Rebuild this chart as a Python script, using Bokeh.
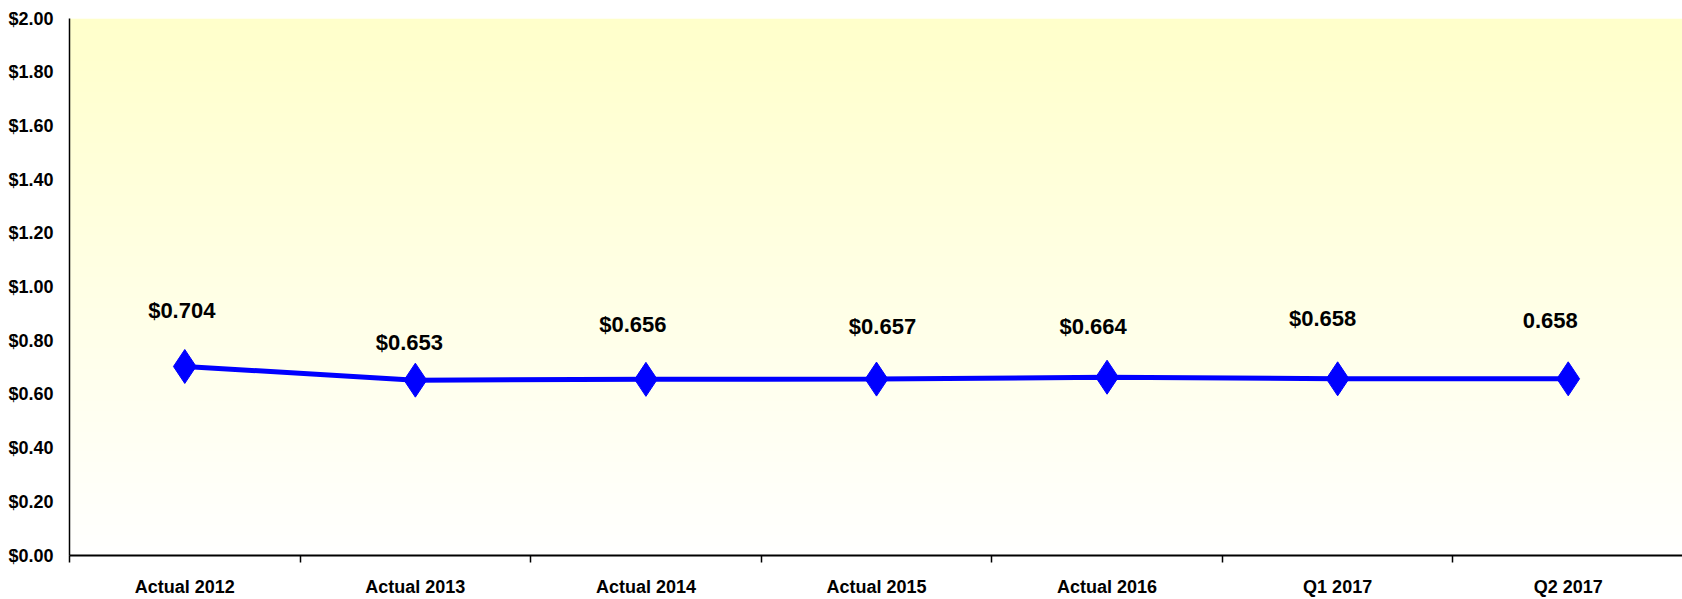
import numpy as np
from bokeh.plotting import figure
from bokeh.models import (ColumnDataSource, FixedTicker, NumeralTickFormatter,
                          Range1d)
from bokeh.core.properties import value
from bokeh.embed import file_html
from bokeh.resources import INLINE

# ---- data ----
categories = ["Actual 2012", "Actual 2013", "Actual 2014", "Actual 2015",
              "Actual 2016", "Q1 2017", "Q2 2017"]
values = [0.704, 0.653, 0.656, 0.657, 0.664, 0.658, 0.658]
value_labels = ["$0.704", "$0.653", "$0.656", "$0.657", "$0.664", "$0.658", "0.658"]
y_ticks = [0.0, 0.2, 0.4, 0.6, 0.8, 1.0, 1.2, 1.4, 1.6, 1.8, 2.0]

# label placement tweaks (styling only, pixels)
label_dx = [-3, -6, -13, 6, -14, -15, -18]
label_dy = [-56, -38, -55, -53, -51, -60, -58]

FONT = "Liberation Sans"

n = len(categories)
xs = [i + 0.5 for i in range(n)]

p = figure(frame_width=1614, frame_height=537, output_backend="svg",
           toolbar_location=None,
           x_range=Range1d(0, 7.0), y_range=Range1d(0, 2.0),
           min_border_left=69, min_border_right=0, min_border_top=18,
           min_border_bottom=30)
p.outline_line_color = None
p.background_fill_color = "white"
p.border_fill_color = "white"

# vertical gradient background (light yellow -> white)
rows = 256
t = np.linspace(0, 1, rows)  # bottom -> top
img = np.zeros((rows, 1), dtype=np.uint32)
view = img.view(dtype=np.uint8).reshape((rows, 1, 4))
view[:, 0, 0] = 255
view[:, 0, 1] = 255
view[:, 0, 2] = (255 - 52 * t).astype(np.uint8)
view[:, 0, 3] = 255
p.image_rgba(image=[img], x=0, y=0, dw=7, dh=2.0)

src = ColumnDataSource(dict(x=xs, y=values, lab=value_labels,
                            dx=label_dx, dy=label_dy))
p.line("x", "y", source=src, line_color="#0000FF", line_width=5)
p.scatter("x", "y", source=src, marker="diamond", size=34,
          fill_color="#0000FF", line_color="#0000FF")

p.text("x", "y", text="lab", source=src, x_offset="dx", y_offset="dy",
       text_align="center", text_baseline="middle",
       text_font=value(FONT), text_font_style="bold",
       text_font_size="22px", text_color="black")

# x axis: labels at centers, tick marks between categories
p.xaxis.ticker = FixedTicker(ticks=xs, minor_ticks=[float(i) for i in range(0, n + 1)])
p.xaxis.major_label_overrides = {x: c for x, c in zip(xs, categories)}
p.xaxis.major_tick_out = 0
p.xaxis.major_tick_in = 0
p.xaxis.minor_tick_out = 7
p.xaxis.minor_tick_in = 0
p.xaxis.minor_tick_line_color = "black"
p.xaxis.minor_tick_line_width = 1.5
p.xaxis.axis_line_color = "black"
p.xaxis.axis_line_width = 2
p.xaxis.major_label_text_font = FONT
p.xaxis.major_label_text_font_style = "bold"
p.xaxis.major_label_text_font_size = "18px"
p.xaxis.major_label_text_color = "black"
p.xaxis.major_label_standoff = 14

# y axis
p.yaxis.ticker = FixedTicker(ticks=y_ticks)
p.yaxis.formatter = NumeralTickFormatter(format="$0.00")
p.yaxis.major_tick_out = 0
p.yaxis.major_tick_in = 0
p.yaxis.minor_tick_line_color = None
p.yaxis.axis_line_color = "black"
p.yaxis.axis_line_width = 1.5
p.yaxis.major_label_text_font = FONT
p.yaxis.major_label_text_font_style = "bold"
p.yaxis.major_label_text_font_size = "18px"
p.yaxis.major_label_text_color = "black"
p.yaxis.major_label_standoff = 16

p.xgrid.grid_line_color = None
p.ygrid.ticker = FixedTicker(ticks=y_ticks)
p.ygrid.grid_line_color = "#111111"
p.ygrid.grid_line_width = 2

open("out.html", "w").write(file_html(p, INLINE))
